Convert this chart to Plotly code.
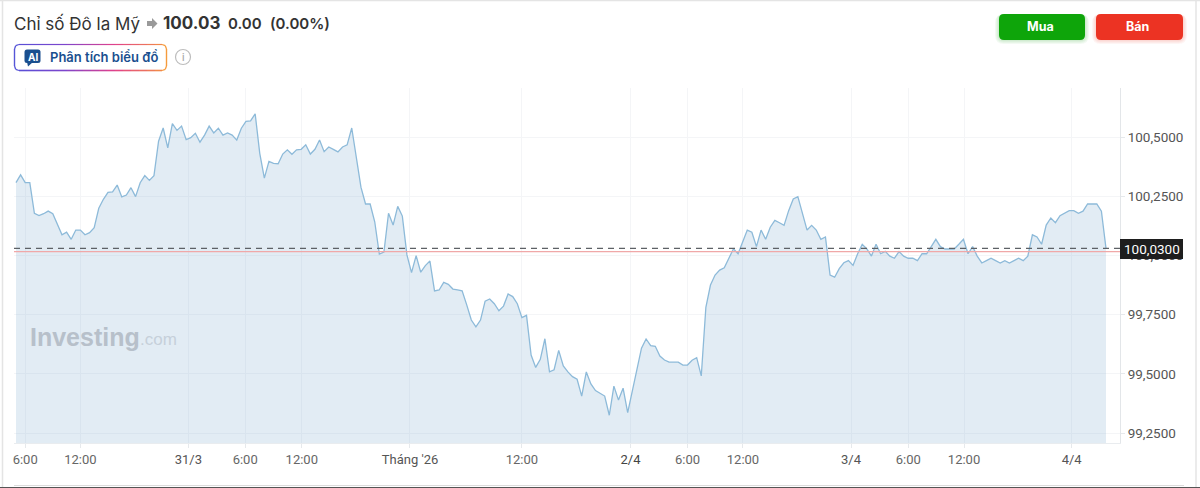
import pandas as pd
import plotly.graph_objects as go

W, H = 1200, 488

start_time = "2026-03-30 05:00"
prices = [
100.307,100.340,100.307,100.307,100.178,100.168,100.176,100.187,100.176,100.133,
100.087,100.098,100.068,100.107,100.107,100.087,100.096,100.117,100.199,100.237,
100.266,100.268,100.297,100.247,100.255,100.286,100.248,100.307,100.337,100.317,
100.337,100.482,100.538,100.454,100.556,100.528,100.546,100.489,100.497,100.516,
100.478,100.508,100.546,100.517,100.537,100.508,100.517,100.508,100.487,100.537,
100.566,100.568,100.598,100.431,100.326,100.397,100.389,100.387,100.428,100.446,
100.427,100.446,100.448,100.467,100.428,100.448,100.487,100.438,100.458,100.448,
100.437,100.458,100.467,100.538,100.417,100.288,100.217,100.217,100.142,100.006,
100.014,100.178,100.128,100.207,100.166,100.002,99.927,99.999,99.929,99.957,
99.976,99.850,99.854,99.886,99.878,99.858,99.854,99.850,99.791,99.727,
99.698,99.727,99.807,99.816,99.796,99.766,99.786,99.837,99.826,99.796,
99.737,99.747,99.579,99.527,99.561,99.648,99.508,99.517,99.599,99.533,
99.508,99.488,99.477,99.406,99.508,99.457,99.429,99.418,99.406,99.325,
99.448,99.389,99.439,99.336,99.427,99.516,99.608,99.647,99.619,99.616,
99.575,99.558,99.549,99.549,99.549,99.537,99.537,99.557,99.568,99.491,
99.781,99.875,99.917,99.938,99.948,99.988,100.028,100.007,100.058,100.107,
100.098,100.037,100.107,100.068,100.119,100.148,100.138,100.127,100.189,100.238,
100.248,100.175,100.107,100.127,100.107,100.068,100.078,99.917,99.908,99.944,
99.969,99.978,99.958,100.007,100.047,100.027,99.997,100.047,100.007,100.017,
99.997,99.988,100.016,99.997,99.988,99.988,99.978,100.007,100.007,100.037,
100.068,100.037,100.027,100.027,100.027,100.047,100.068,100.007,100.037,99.997,
99.968,99.978,99.988,99.978,99.968,99.978,99.968,99.978,99.988,99.978,
99.997,100.087,100.078,100.047,100.128,100.158,100.138,100.168,100.178,100.189,
100.189,100.178,100.187,100.217,100.217,100.217,100.187,100.030,
]
x_tick_times = ["2026-03-30 06:00","2026-03-30 12:00","2026-03-30 23:44","2026-03-31 05:55",
                "2026-03-31 12:04","2026-03-31 23:50","2026-04-01 12:00","2026-04-01 23:48",
                "2026-04-02 06:00","2026-04-02 12:02","2026-04-02 23:47","2026-04-03 06:00",
                "2026-04-03 12:04","2026-04-03 23:46"]
x_tick_text = ["6:00","12:00","<span style='color:#555555'>31/3</span>","6:00","12:00",
               "<span style='color:#555555'>Tháng '26</span>","12:00",
               "<span style='color:#444444'>2/4</span>","6:00","12:00",
               "<span style='color:#555555'>3/4</span>","6:00","12:00",
               "<span style='color:#555555'>4/4</span>"]
y_tick_vals = [99.25,99.5,99.75,100.0,100.25,100.5]
y_tick_text = ["99,2500","99,5000","99,7500","100,0000","100,2500","100,5000"]
last_price = 100.03
prev_close = 100.016

# pixel layout of plot box
PL, PR, PT, PB = 14, 1120, 88, 443
FIRST_X, LAST_X = 16, 1106
Y100_5, PX_PER_UNIT = 137.0, 236.8

times = pd.date_range(start_time, periods=len(prices), freq="30min")
step = (LAST_X - FIRST_X) / (len(prices) - 1)
half_hour = pd.Timedelta(minutes=30)
x0 = times[0] - half_hour * ((FIRST_X - PL) / step)
x1 = times[0] + half_hour * ((PR - FIRST_X) / step)
y_top = 100.5 + (Y100_5 - PT) / PX_PER_UNIT
y_bot = 100.5 - (PB - Y100_5) / PX_PER_UNIT

fx = lambda p: p / W
fy = lambda p: 1 - p / H

fig = go.Figure(go.Scatter(
    x=times, y=prices, mode="lines",
    line=dict(color="#8dbad9", width=1.3),
    fill="tozeroy", fillcolor="rgba(135,175,210,0.24)",
    hoverinfo="skip",
))

shapes, annos = [], []

def rrect(x0_, y0_, x1_, y1_, r, fill=None, line=None, lw=0, layer="above"):
    X0, X1, Y0, Y1 = fx(x0_), fx(x1_), fy(y0_), fy(y1_)
    rx, ry = r / W, r / H
    path = (f"M {X0+rx} {Y0} L {X1-rx} {Y0} Q {X1} {Y0} {X1} {Y0-ry} L {X1} {Y1+ry} "
            f"Q {X1} {Y1} {X1-rx} {Y1} L {X0+rx} {Y1} Q {X0} {Y1} {X0} {Y1+ry} "
            f"L {X0} {Y0-ry} Q {X0} {Y0} {X0+rx} {Y0} Z")
    shapes.append(dict(type="path", xref="paper", yref="paper", path=path, layer=layer,
                       fillcolor=fill or "rgba(0,0,0,0)",
                       line=dict(color=line or "rgba(0,0,0,0)", width=lw)))

def seg(a, b, c, d, color, lw=1.3, dash=None):
    shapes.append(dict(type="line", xref="paper", yref="paper",
                       x0=fx(a), y0=fy(b), x1=fx(c), y1=fy(d),
                       line=dict(color=color, width=lw, dash=dash)))

def txt(x, y, s, size, color, family="Inter", weight=400, anchor="left"):
    annos.append(dict(xref="paper", yref="paper", x=fx(x), y=fy(y), text=s, showarrow=False,
                      xanchor=anchor, yanchor="middle", align=anchor,
                      font=dict(size=size, color=color, family=family, weight=weight)))

# card frame
seg(2.5, 0, 2.5, 488, "#e4e4e4", 1.5)
seg(1196, 0, 1196, 488, "#e4e4e4", 1.5)
seg(0, 0.5, 1200, 0.5, "#e4e4e4", 1.5)
seg(14, 485.5, 1184, 485.5, "#dcdcdc", 1)
seg(0, 487.5, 1200, 487.5, "#555555", 1.2)

# reference lines
shapes.append(dict(type="line", xref="paper", yref="y", x0=fx(PL), x1=fx(PR), y0=prev_close, y1=prev_close,
                   line=dict(color="#f0a8a8", width=1.2)))
shapes.append(dict(type="line", xref="paper", yref="y", x0=fx(PL), x1=fx(PR), y0=last_price, y1=last_price,
                   line=dict(color="#5d6166", width=1.3, dash="6px,5px")))

# price tag
rrect(1120, 239, 1183, 259, 0, fill="#1e1e1e")
txt(1151.5, 249, "100,0300", 13.5, "#ffffff", "Roboto", anchor="center")

# header
txt(12, 23.5, "Chỉ số Đô la Mỹ", 17, "#333333")
a = [(147,21),(152,21),(152,18),(157.5,23.5),(152,29),(152,26),(147,26)]
shapes.append(dict(type="path", xref="paper", yref="paper", fillcolor="#9a9a9a", line=dict(width=0),
                   path="M " + " L ".join(f"{fx(p)} {fy(q)}" for p, q in a) + " Z"))
txt(161, 23.5, "100.03", 17, "#333333", weight=700)
txt(226, 23.5, "0.00", 15, "#333333", weight=600)
txt(268, 23.5, "(0.00%)", 15, "#333333", weight=600)

# buttons
for i in range(4, 0, -1):
    rrect(999-i, 14, 1085+i, 40+i, 5+i, fill="rgba(14,165,10,0.05)")
    rrect(1096-i, 14, 1183+i, 40+i, 5+i, fill="rgba(236,51,35,0.05)")
rrect(999, 14, 1085, 40, 5, fill="#0ea50a")
rrect(1096, 14, 1183, 40, 5, fill="#ec3323")
txt(1040, 27, "Mua", 12.5, "#ffffff", weight=700, anchor="center")
txt(1137, 27, "Bán", 12.5, "#ffffff", weight=700, anchor="center")

# AI button with gradient border
stops = [(14,(90,80,215)),(60,(125,70,205)),(110,(225,65,140)),(167,(245,155,60))]
def grad(x):
    for (p,c),(q,d) in zip(stops, stops[1:]):
        if x <= q:
            t = (x-p)/(q-p)
            return "rgb(%d,%d,%d)" % tuple(c[k]+(d[k]-c[k])*t for k in range(3))
    return "rgb(245,155,60)"
xs = list(range(19, 163, 8)) + [162]
for p, q in zip(xs, xs[1:]):
    seg(p, 44.5, q, 44.5, grad(p), 1.2)
    seg(p, 70.5, q, 70.5, grad(p), 1.6)
seg(14.5, 49, 14.5, 66, "rgb(85,85,215)", 1.4)
seg(166.5, 49, 166.5, 66, "rgb(245,155,60)", 1.4)
for (ax, ay, bx, by, c) in [(14.5,49,15.7,45.7,"rgb(85,85,215)"),(15.7,45.7,19,44.5,"rgb(85,85,215)"),
                            (14.5,66,15.7,69.3,"rgb(85,85,215)"),(15.7,69.3,19,70.5,"rgb(85,85,215)"),
                            (166.5,49,165.3,45.7,"rgb(245,155,60)"),(165.3,45.7,162,44.5,"rgb(245,155,60)"),
                            (166.5,66,165.3,69.3,"rgb(245,155,60)"),(165.3,69.3,162,70.5,"rgb(245,155,60)")]:
    seg(ax, ay, bx, by, c, 1.3)
rrect(24.5, 49.5, 40.5, 63, 2.5, fill="#1a4f8f")
t = [(27,62),(33,62),(28,66.5)]
shapes.append(dict(type="path", xref="paper", yref="paper", fillcolor="#1a4f8f", line=dict(width=0),
                   path="M " + " L ".join(f"{fx(p)} {fy(q)}" for p, q in t) + " Z"))
txt(32.5, 56.5, "AI", 10, "#ffffff", weight=700, anchor="center")
txt(47.5, 57.5, "Phân tích biểu đồ", 13, "#1a4f8f", weight=600)
shapes.append(dict(type="circle", xref="paper", yref="paper", x0=fx(175.5), x1=fx(190.5), y0=fy(49.5), y1=fy(64.5),
                   line=dict(color="#bdbdbd", width=1.2)))
txt(183, 57, "i", 10, "#a8a8a8", weight=500, anchor="center")

# watermark
txt(28, 336.5, "Investing", 25, "#b7c0ca", "Liberation Sans", weight=700)
txt(138, 339.5, ".com", 17, "#c6d0da", "Liberation Sans")

fig.update_layout(
    width=W, height=H, autosize=False, showlegend=False,
    margin=dict(l=0, r=0, t=0, b=0),
    paper_bgcolor="#ffffff", plot_bgcolor="#ffffff",
    shapes=shapes, annotations=annos,
    xaxis=dict(domain=[fx(PL), fx(PR)], range=[x0, x1], type="date",
               tickmode="array", tickvals=x_tick_times, ticktext=x_tick_text,
               tickfont=dict(family="Roboto", size=13, color="#666666"),
               ticks="outside", ticklen=4, tickcolor="#e6e9ec", tickwidth=1,
               tickangle=0,
               showgrid=True, gridcolor="#f4f5f7", gridwidth=1,
               showline=True, linecolor="#e9ecef", linewidth=1, zeroline=False),
    yaxis=dict(domain=[fy(PB), fy(PT)], range=[y_bot, y_top], side="right",
               tickmode="array", tickvals=y_tick_vals, ticktext=y_tick_text,
               tickfont=dict(family="Roboto", size=13.5, color="#555555"),
               ticks="outside", ticklen=4, tickcolor="#e6e9ec", tickwidth=1,
               showgrid=True, gridcolor="#f4f5f7", gridwidth=1,
               showline=True, linecolor="#e3e6e9", linewidth=1, zeroline=False),
)

fig.write_html("out.html", config=dict(displayModeBar=False),
               post_script="document.body.style.margin='0';document.body.style.overflow='hidden';")
